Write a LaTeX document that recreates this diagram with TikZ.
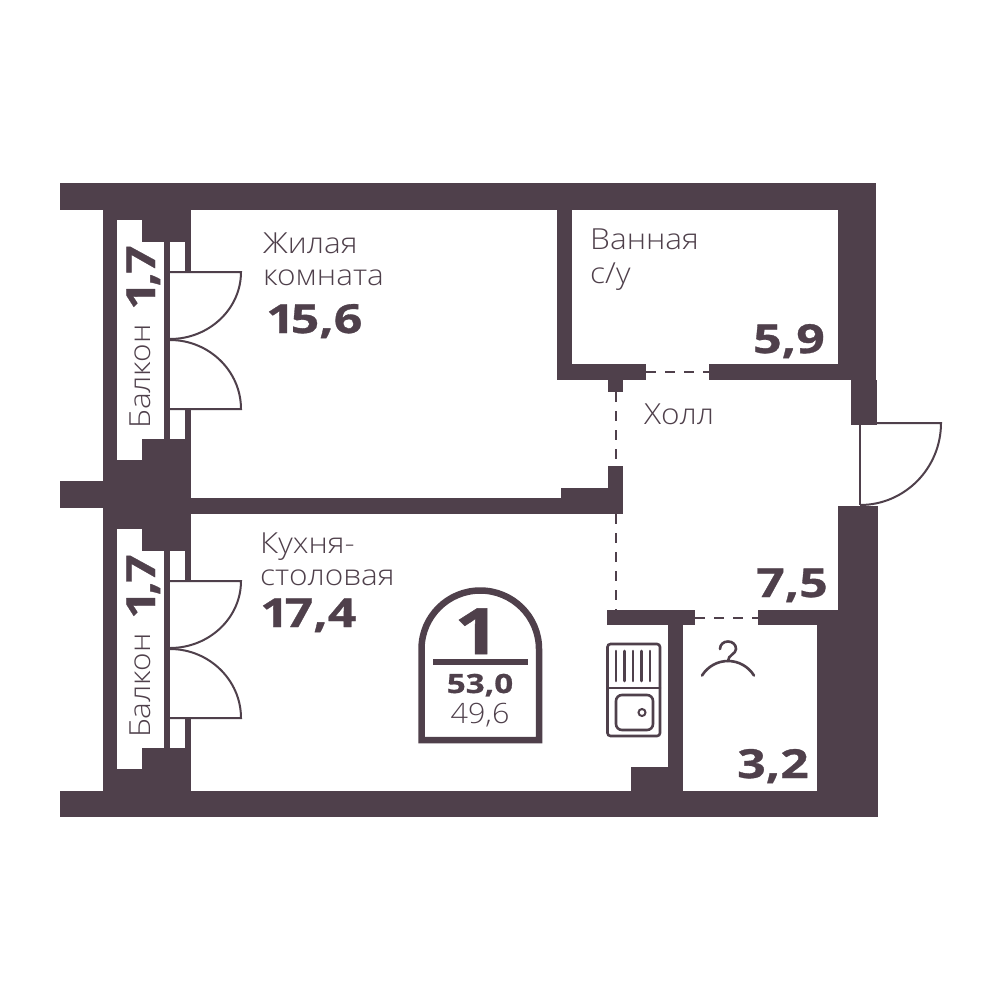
\documentclass[tikz,border=0pt]{standalone}
\usepackage{fontspec}
\setmainfont{Open Sans Light}[FakeStretch=1.09]
\newfontfamily\numfont{Open Sans Bold}[FakeStretch=1.25,FakeBold=0.8]
\definecolor{cwall}{RGB}{79,64,75}

\begin{document}
\begin{tikzpicture}[x=1pt,y=-1pt,
    wall/.style={fill=cwall},
    opening/.style={fill=white},
    leaf/.style={draw=cwall,line width=2pt},
    thin dash/.style={draw=cwall,line width=2pt,dash pattern=on 10pt off 9pt},
    icon/.style={draw=cwall,line width=2.6pt,line cap=round},
    room/.style={text=cwall,anchor=base west,inner sep=0pt,font=\fontsize{29}{31}\selectfont},
    area/.style={text=cwall,anchor=base west,inner sep=0pt,font=\numfont\fontsize{40}{40}\selectfont}]
    \useasboundingbox (0,0) rectangle (1000,1000);
    \fill[white] (0,0) rectangle (1000,1000);

    % outer walls
    \fill[wall] (60,183) rectangle (876,210);
    \fill[wall] (60,183) rectangle (103,200);
    \fill[wall] (60,481) rectangle (103,508);
    \fill[wall] (60,791) rectangle (878,817);
    \fill[wall] (103,183) rectangle (191,817);
    \fill[wall] (838,183) rectangle (876,380);
    \fill[wall] (851,380) rectangle (877,425);
    \fill[wall] (838,506) rectangle (878,610);
    \fill[wall] (817,610) rectangle (878,817);

    % inner walls
    \fill[wall] (191,498) rectangle (623,514);
    \fill[wall] (561,488) rectangle (623,514);
    \fill[wall] (608,466) rectangle (623,514);
    \fill[wall] (557,183) rectangle (572,380);
    \fill[wall] (557,364) rectangle (646,380);
    \fill[wall] (608,380) rectangle (623,392);
    \fill[wall] (709,364) rectangle (851,380);
    \fill[wall] (607,610) rectangle (695,625);
    \fill[wall] (758,610) rectangle (817,625);
    \fill[wall] (668,625) rectangle (683,791);
    \fill[wall] (631,767) rectangle (668,791);

    % passages
    \draw[thin dash] (646,372) -- (709,372);
    \draw[thin dash] (695,618) -- (758,618);
    \draw[thin dash] (615.5,392) -- (615.5,466);
    \draw[thin dash] (615.5,514) -- (615.5,610);

    % balconies with their doors
    \foreach \dy in {0,309} {
      \begin{scope}[yshift=-\dy pt]
        \fill[opening] (117,220) rectangle (142,460);
        \fill[opening] (142,242) rectangle (164,439);
        \fill[opening] (170,242) rectangle (185,439);
        \fill[opening] (185,272) rectangle (191,409);
        \draw[leaf] (170,272) -- (241,272) .. controls (241,309) and (209,339) .. (170,339);
        \draw[leaf] (170,340) .. controls (209,340) and (241,371) .. (241,409) -- (170,409);
        \node[area,rotate=90] (Area\dy) at (155,310) {1\kern-5pt,\kern-2pt 7};
        \node[room,rotate=90] (Balcony\dy) at (150,429) {Балкон};
      \end{scope}
    }

    % entrance door
    \draw[leaf] (860,505) -- (860,423);
    \draw[leaf] (851,423) -- (941,423) .. controls (941,468) and (905,505) .. (860,505);

    % labels
    \node[room] (Living) at (263,254) {Жилая};
    \node[room] (LivingB) at (263,285) {комната};
    \node[area] (LivingArea) at (266,333) {1\kern-4pt 5,6};
    \node[room] (Bath) at (590,250) {Ванная};
    \node[room] (BathB) at (590,283) {с/у};
    \node[area] (BathArea) at (753,353) {5,9};
    \node[room] (Hall) at (644,424) {Холл};
    \node[area] (HallArea) at (756,597) {7,5};
    \node[room] (Kitchen) at (260,553) {Кухня-};
    \node[room] (KitchenB) at (260,585) {столовая};
    \node[area] (KitchenArea) at (260,627) {1\kern-4pt 7,4};
    \node[area] (CloakArea) at (737,778) {3,2};

    % flat badge
    \draw[cwall,line width=6.5pt] (421.5,740) -- (421.5,649)
      .. controls (421.5,616.6) and (447.9,590.5) .. (480.25,590.5)
      .. controls (512.6,590.5) and (539,616.6) .. (539,649) -- (539,740) -- cycle;
    \fill[wall] (433,659) rectangle (528,665);
    \node[area,anchor=base,font=\numfont\fontsize{64}{64}\selectfont] (Rooms) at (477,654) {1};
    \node[area,anchor=base,font=\numfont\fontsize{26.5}{26.5}\selectfont] (Total) at (480,693) {53,0};
    \node[room,anchor=base,font=\fontsize{28}{28}\selectfont] (Living2) at (480,723) {49,6};

    % sink
    \draw[icon,rounded corners=3pt] (607.5,644) rectangle (660,736);
    \draw[icon] (607.5,688) -- (660,688);
    \foreach \x in {616,624.5,633,641.5,650} {
      \draw[icon] (\x,651) -- (\x,681);
    }
    \draw[icon,rounded corners=6pt] (616,695) rectangle (653,730);
    \draw[icon,line width=2pt] (642,712.5) circle (3.5pt);

    % hanger
    \draw[icon] (720,649) .. controls (720,644) and (724,641.5) .. (728,641.5)
      .. controls (732,641.5) and (736,644) .. (736,649)
      .. controls (736,654) and (728,655) .. (728,661);
    \draw[icon] (702,675.5) .. controls (708,666) and (718,661) .. (728,661)
      .. controls (738,661) and (748,666) .. (754,675.5);
\end{tikzpicture}
\end{document}
